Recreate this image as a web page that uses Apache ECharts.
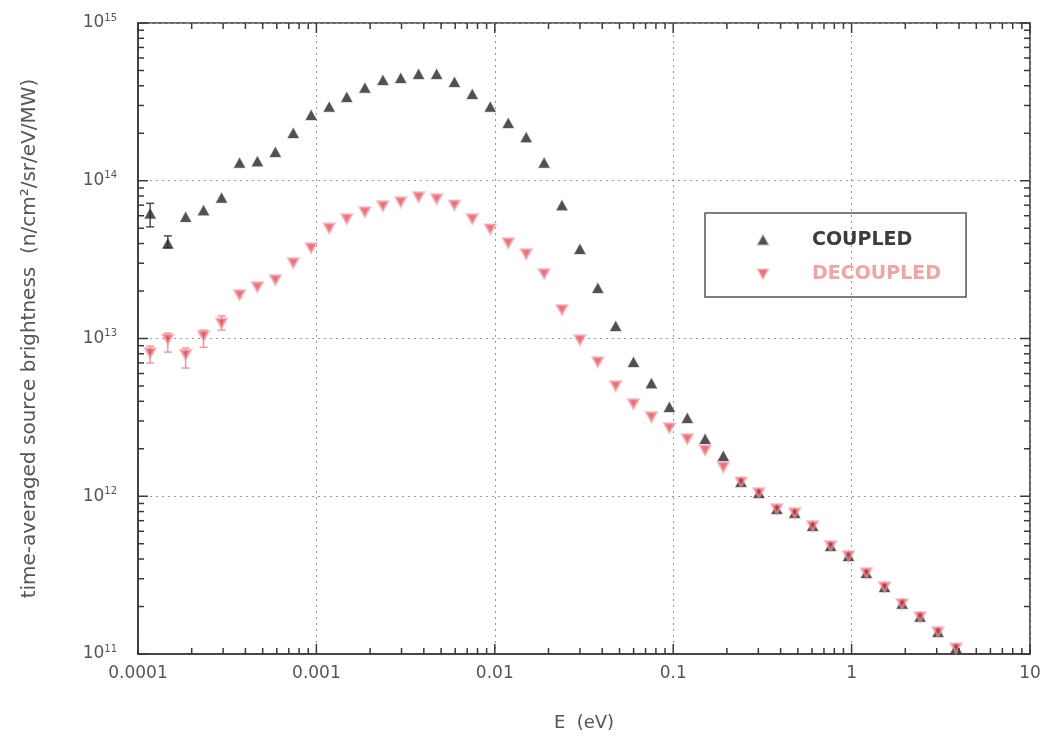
<!DOCTYPE html>
<html>
<head>
<meta charset="utf-8">
<script src="https://cdn.jsdelivr.net/npm/echarts@6/dist/echarts.min.js"></script>
<style>
html,body{margin:0;padding:0;background:#fff;}
#chart{width:1049px;height:737px;}
</style>
</head>
<body>
<div id="chart"></div>
<script>
// Energy grid (eV), shared by both series
var energy = [1.17e-4,1.47e-4,1.85e-4,2.33e-4,2.94e-4,3.71e-4,4.67e-4,5.89e-4,7.42e-4,9.35e-4,
  1.18e-3,1.48e-3,1.87e-3,2.36e-3,2.97e-3,3.74e-3,4.72e-3,5.94e-3,7.48e-3,9.43e-3,
  1.19e-2,1.50e-2,1.89e-2,2.38e-2,3.00e-2,3.78e-2,4.76e-2,5.99e-2,7.55e-2,9.52e-2,
  0.120,0.151,0.191,0.240,0.302,0.381,0.480,0.605,0.763,0.961,
  1.21,1.53,1.92,2.42,3.05,3.85];
var coupled = [6.2e13,4.0e13,5.9e13,6.5e13,7.8e13,1.30e14,1.33e14,1.52e14,2.01e14,2.61e14,
  2.94e14,3.40e14,3.88e14,4.35e14,4.48e14,4.75e14,4.75e14,4.23e14,3.55e14,2.94e14,
  2.32e14,1.89e14,1.30e14,7.0e13,3.69e13,2.09e13,1.20e13,7.1e12,5.2e12,3.68e12,
  3.13e12,2.31e12,1.80e12,1.23e12,1.05e12,8.3e11,7.83e11,6.48e11,4.84e11,4.18e11,
  3.26e11,2.66e11,2.08e11,1.72e11,1.38e11,1.09e11];
var decoupled = [8.1e12,9.9e12,7.9e12,1.04e13,1.25e13,1.89e13,2.12e13,2.35e13,3.01e13,3.75e13,
  5.0e13,5.73e13,6.34e13,6.92e13,7.33e13,7.89e13,7.66e13,7.01e13,5.73e13,4.94e13,
  4.03e13,3.43e13,2.57e13,1.52e13,9.8e12,7.1e12,5.0e12,3.85e12,3.18e12,2.71e12,
  2.31e12,1.96e12,1.53e12,1.23e12,1.05e12,8.3e11,7.83e11,6.48e11,4.84e11,4.18e11,
  3.26e11,2.66e11,2.08e11,1.72e11,1.38e11,1.09e11];
// error bars: [E, low, high]
var coupledErr = [[1.17e-4,5.1e13,7.2e13],[1.47e-4,3.75e13,4.47e13]];
var decoupledErr = [[1.17e-4,7.0e12,8.96e12],[1.47e-4,8.2e12,1.08e13],[1.85e-4,6.5e12,8.7e12],[2.33e-4,8.8e12,1.13e13],[2.94e-4,1.13e13,1.39e13]];
var xTickLabels = ['0.0001','0.001','0.01','0.1','1','10'];
var seriesNames = ['COUPLED','DECOUPLED'];
var xTitle = 'E  (eV)';
var yTitle = 'time-averaged source brightness  (n/cm²/sr/eV/MW)';

var XMIN = 1e-4, XMAX = 10, YMIN = 1e11, YMAX = 1e15;
var FONT = 'DejaVu Sans';
var DOWN_TRI = 'path://M0,0 L10,0 L5,9 Z';

function zip(a, b){ return a.map(function(v,i){ return [v, b[i]]; }); }

// tick rows for custom tick renderers: [value, length]
var xTicks = [], yTicks = [];
for (var n = -4; n <= 1; n++) {
  for (var m = 1; m <= 9; m++) {
    var v = m * Math.pow(10, n);
    if (v > XMAX * 1.0001) break;
    xTicks.push([v, m === 1 ? 10 : 6]);
  }
}
for (var n2 = 11; n2 <= 15; n2++) {
  for (var m2 = 1; m2 <= 9; m2++) {
    var v2 = m2 * Math.pow(10, n2);
    if (v2 > YMAX * 1.0001) break;
    yTicks.push([v2, m2 === 1 ? 10 : 6]);
  }
}

var tickColor = '#3a3a3a';
var chart = echarts.init(document.getElementById('chart'));

function errRender(color){
  return function(params, api){
    var x = api.value(0);
    var p1 = api.coord([x, api.value(1)]);
    var p2 = api.coord([x, api.value(2)]);
    var st = {stroke: color, lineWidth: 1.3};
    return {type:'group', children:[
      {type:'line', shape:{x1:p1[0],y1:p1[1],x2:p2[0],y2:p2[1]}, style:st},
      {type:'line', shape:{x1:p1[0]-4,y1:p1[1],x2:p1[0]+4,y2:p1[1]}, style:st},
      {type:'line', shape:{x1:p2[0]-4,y1:p2[1],x2:p2[0]+4,y2:p2[1]}, style:st}
    ]};
  };
}

var option = {
  backgroundColor: '#ffffff',
  animation: false,
  grid: {left: 138, right: 19, top: 23, bottom: 83, show: true, borderColor: '#3a3a3a', borderWidth: 1.6, backgroundColor: 'transparent'},
  legend: {
    left: 705, top: 213,
    orient: 'vertical',
    padding: [16, 25, 12, 52],
    itemGap: 12,
    itemWidth: 10, itemHeight: 9,
    borderColor: '#555', borderWidth: 1.5,
    data: [
      {name: seriesNames[0], icon: 'triangle', textStyle: {color: '#3c3c3c'}},
      {name: seriesNames[1], icon: DOWN_TRI, textStyle: {color: '#f3a49f'}}
    ],
    textStyle: {fontFamily: FONT, fontSize: 19, fontWeight: 'bold', padding: [0,0,0,39], lineHeight: 22}
  },
  xAxis: {
    type: 'log', logBase: 10, min: XMIN, max: XMAX,
    name: xTitle, nameLocation: 'middle', nameGap: 60,
    nameTextStyle: {fontFamily: FONT, fontSize: 18, color: '#555'},
    axisLine: {lineStyle: {color: '#3a3a3a', width: 1.6}},
    axisTick: {show: false},
    axisLabel: {
      margin: 11, color: '#555', fontFamily: FONT, fontSize: 17,
      formatter: function(v){ return xTickLabels[Math.round(Math.log10(v)) + 4]; }
    },
    splitLine: {show: true, lineStyle: {color: '#9a9a9a', type: [2, 4], width: 1}}
  },
  yAxis: {
    type: 'log', logBase: 10, min: YMIN, max: YMAX,
    name: yTitle, nameLocation: 'middle', nameGap: 98,
    nameTextStyle: {fontFamily: FONT, fontSize: 20, color: '#555'},
    axisLine: {lineStyle: {color: '#3a3a3a', width: 1.6}},
    axisTick: {show: false},
    axisLabel: {
      margin: 21, color: '#555', fontFamily: FONT,
      formatter: function(v){ return '{b|10}{s|' + Math.round(Math.log10(v)) + '}'; },
      rich: {
        b: {fontSize: 17, color: '#555', fontFamily: FONT},
        s: {fontSize: 10, color: '#555', fontFamily: FONT, padding: [0,0,10,0]}
      }
    },
    splitLine: {show: true, lineStyle: {color: '#9a9a9a', type: [2, 4], width: 1}}
  },
  series: [
    {
      type: 'custom', silent: true, z: 5,
      data: coupledErr, encode: {x: 0, y: [1, 2]},
      renderItem: errRender('#333')
    },
    {
      type: 'custom', silent: true, z: 5,
      data: decoupledErr, encode: {x: 0, y: [1, 2]},
      renderItem: errRender('#f08a8a')
    },
    {
      name: seriesNames[0], type: 'scatter', z: 10,
      symbol: 'triangle', symbolSize: [11, 10],
      itemStyle: {color: '#262626', borderColor: 'rgba(90,90,90,0.5)', borderWidth: 1},
      data: zip(energy, coupled)
    },
    {
      name: seriesNames[1], type: 'scatter', z: 11,
      symbol: 'triangle', symbolRotate: 180, symbolSize: [10, 9],
      itemStyle: {color: 'rgba(225,50,60,0.88)', borderColor: 'rgba(245,150,160,0.75)', borderWidth: 2.5},
      data: zip(energy, decoupled)
    },
    {
      type: 'custom', silent: true, z: 20,
      data: xTicks.map(function(t){ return [t[0], 1e13, t[1]]; }),
      encode: {x: 0, y: 1},
      renderItem: function(params, api){
        var v = api.value(0), len = api.value(2);
        var b = api.coord([v, YMIN]), t = api.coord([v, YMAX]);
        var st = {stroke: tickColor, lineWidth: 1.5};
        return {type: 'group', children: [
          {type: 'line', shape: {x1: b[0], y1: b[1], x2: b[0], y2: b[1] - len}, style: st},
          {type: 'line', shape: {x1: t[0], y1: t[1], x2: t[0], y2: t[1] + len}, style: st}
        ]};
      }
    },
    {
      type: 'custom', silent: true, z: 20,
      data: yTicks.map(function(t){ return [1e-2, t[0], t[1]]; }),
      encode: {x: 0, y: 1},
      renderItem: function(params, api){
        var v = api.value(1), len = api.value(2);
        var l = api.coord([XMIN, v]), r = api.coord([XMAX, v]);
        var st = {stroke: tickColor, lineWidth: 1.5};
        return {type: 'group', children: [
          {type: 'line', shape: {x1: l[0], y1: l[1], x2: l[0] + len, y2: l[1]}, style: st},
          {type: 'line', shape: {x1: r[0], y1: r[1], x2: r[0] - len, y2: r[1]}, style: st}
        ]};
      }
    }
  ]
};
chart.setOption(option);
</script>
</body>
</html>
